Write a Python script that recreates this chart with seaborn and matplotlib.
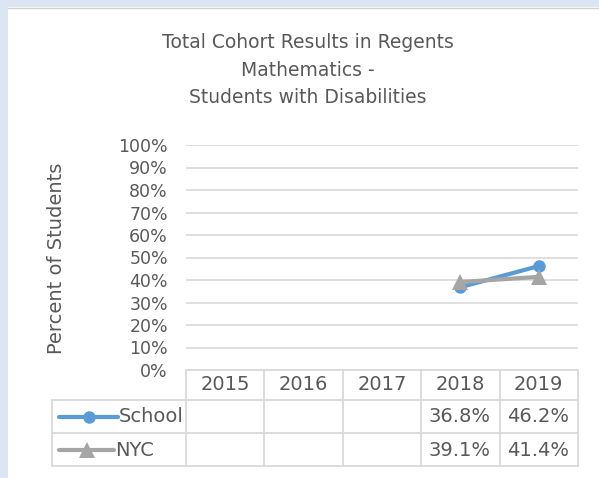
import matplotlib
matplotlib.use("Agg")
import matplotlib.pyplot as plt
import matplotlib.transforms as mtransforms
from matplotlib.lines import Line2D
from matplotlib.patches import Rectangle
import numpy as np
import pandas as pd
import seaborn as sns

# data
years = ["2015", "2016", "2017", "2018", "2019"]
school = [np.nan, np.nan, np.nan, 36.8, 46.2]
nyc = [np.nan, np.nan, np.nan, 39.1, 41.4]
series_names = ["School", "NYC"]
y_ticks = [0, 10, 20, 30, 40, 50, 60, 70, 80, 90, 100]

title = "Total Cohort Results in Regents\nMathematics -\nStudents with Disabilities"
y_label = "Percent of Students"

BLUE = "#5B9BD5"
GRAY = "#A5A5A5"
TXT = "#595959"
GRID = "#D9D9D9"

sns.set_style("white")
plt.rcParams["font.family"] = ["DejaVu Sans"]

W, H = 599, 478
fig = plt.figure(figsize=(W / 100, H / 100), dpi=100, facecolor="#DCE6F2")


def fx(px):
    return px / W


def fy(py):
    return 1 - py / H


# white chart panel
fig.patches.append(Rectangle((fx(8), 0), 1 - fx(8), fy(7), transform=fig.transFigure,
                             facecolor="white", edgecolor="none", zorder=-5))
fig.lines.append(Line2D([fx(8), 1], [fy(7.5), fy(7.5)], transform=fig.transFigure,
                        color="#D0D0D0", lw=1, zorder=-4))

# plot area
ax = fig.add_axes([fx(186), fy(370), fx(578) - fx(186), fy(145) - fy(370)])
ax.set_facecolor("none")
ax.set_zorder(2)

df = pd.DataFrame({"year": years * 2,
                   "x": list(range(len(years))) * 2,
                   "value": school + nyc,
                   "series": [series_names[0]] * len(years) + [series_names[1]] * len(years)})

sns.lineplot(data=df[df.series == "School"], x="x", y="value", ax=ax, color=BLUE,
             lw=3, marker="o", markersize=9, markeredgewidth=0, zorder=3)
sns.lineplot(data=df[df.series == "NYC"], x="x", y="value", ax=ax, color=GRAY,
             lw=3, marker="^", markersize=11, markeredgewidth=0, zorder=4)

ax.set_xlim(-0.5, len(years) - 0.5)
ax.set_ylim(0, 100)
ax.set_yticks(y_ticks)
ax.set_yticklabels([f"{t}%" for t in y_ticks], color=TXT, fontsize=12.5)
ax.tick_params(axis="y", length=0, pad=13)
ax.set_xticks([])
ax.set_xlabel("")
ax.set_ylabel("")
for t in y_ticks[1:]:
    ax.axhline(t, color=GRID, lw=1.2, zorder=1)
for s in ax.spines.values():
    s.set_visible(False)

fig.text(fx(57), fy(258), y_label, rotation=90, ha="center", va="center",
         fontsize=14, color=TXT)
fig.text(fx(308), fy(70), title, ha="center", va="center", fontsize=13.5,
         color=TXT, linespacing=1.55)

# data table below the plot
bt = mtransforms.blended_transform_factory(ax.transData, fig.transFigure)
row_y = [370, 400, 433, 466]
for i, y in enumerate(row_y):
    x0 = fx(186) if i == 0 else fx(52)
    fig.lines.append(Line2D([x0, fx(578)], [fy(y), fy(y)], transform=fig.transFigure,
                            color=GRID, lw=1.3))
fig.lines.append(Line2D([fx(52), fx(52)], [fy(400), fy(466)], transform=fig.transFigure,
                        color=GRID, lw=1.3))
for k in range(len(years) + 1):
    fig.lines.append(Line2D([k - 0.5, k - 0.5], [fy(370), fy(466)], transform=bt,
                            color=GRID, lw=1.3))

for k, yr in enumerate(years):
    fig.text(k, fy(384), yr, transform=bt, ha="center", va="center",
             fontsize=14, color=TXT)
for vals, yc in [(school, 417), (nyc, 450)]:
    for k, v in enumerate(vals):
        if not np.isnan(v):
            fig.text(k + 0.385, fy(yc), f"{v:.1f}%", transform=bt, ha="right",
                     va="center", fontsize=14, color=TXT)

# legend keys in row headers
for name, col, mk, ms, yc, x1 in [("School", BLUE, "o", 9, 417, 118),
                                   ("NYC", GRAY, "^", 11, 450, 114)]:
    fig.lines.append(Line2D([fx(59), fx(x1)], [fy(yc), fy(yc)], transform=fig.transFigure,
                            color=col, lw=3, solid_capstyle="round"))
    fig.lines.append(Line2D([fx((59 + x1) / 2)], [fy(yc)], transform=fig.transFigure,
                            color=col, marker=mk, markersize=ms, markeredgewidth=0))
    fig.text(fx(x1 + 1), fy(yc), name, ha="left", va="center", fontsize=14, color=TXT)

fig.savefig("out.png", dpi=100, facecolor=fig.get_facecolor())
